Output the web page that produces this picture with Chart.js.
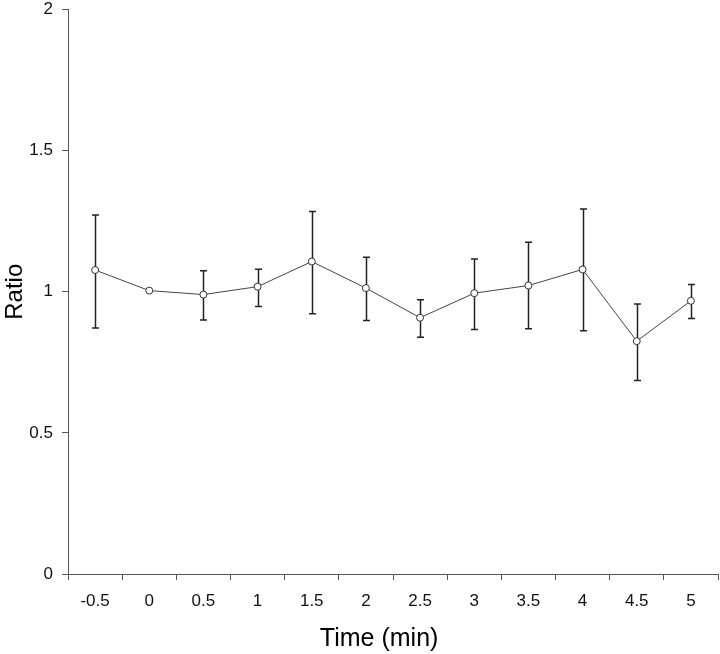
<!DOCTYPE html>
<html>
<head>
<meta charset="utf-8">
<script src="https://cdn.jsdelivr.net/npm/chart.js@4/dist/chart.umd.min.js"></script>
<style>
html,body{margin:0;padding:0;background:#fff;}
#wrap{width:720px;height:654px;position:relative;}
</style>
</head>
<body>
<div id="wrap"><canvas id="c" width="720" height="654"></canvas></div>
<script>
const timeLabels = ['-0.5','0','0.5','1','1.5','2','2.5','3','3.5','4','4.5','5'];
const ratioMean  = [1.077, 1.004, 0.990, 1.018, 1.107, 1.013, 0.908, 0.995, 1.022, 1.079, 0.825, 0.968];
const errUpper   = [1.272, 1.004, 1.074, 1.080, 1.284, 1.122, 0.972, 1.116, 1.175, 1.293, 0.957, 1.026];
const errLower   = [0.872, 1.004, 0.900, 0.948, 0.922, 0.898, 0.839, 0.866, 0.869, 0.862, 0.686, 0.905];
const yTicks     = [0, 0.5, 1, 1.5, 2];

const errorBars = {
  id: 'errorBars',
  beforeDatasetsDraw(chart) {
    const ctx = chart.ctx;
    const xs = chart.scales.x, ys = chart.scales.y;
    ctx.save();
    ctx.strokeStyle = '#222';
    ctx.lineWidth = 1.5;
    for (let i = 0; i < ratioMean.length; i++) {
      if (errUpper[i] === errLower[i]) continue;
      const x = Math.round(xs.getPixelForValue(i)) + 0.5;
      const yt = ys.getPixelForValue(errUpper[i]);
      const yb = ys.getPixelForValue(errLower[i]);
      ctx.beginPath();
      ctx.moveTo(x, yt); ctx.lineTo(x, yb);
      ctx.moveTo(x - 3.5, yt); ctx.lineTo(x + 3.5, yt);
      ctx.moveTo(x - 3.5, yb); ctx.lineTo(x + 3.5, yb);
      ctx.stroke();
    }
    ctx.restore();
  }
};

new Chart(document.getElementById('c'), {
  type: 'line',
  data: {
    labels: timeLabels,
    datasets: [{
      data: ratioMean,
      borderColor: '#444',
      borderWidth: 1,
      pointRadius: 3.5,
      pointBackgroundColor: '#fff',
      pointBorderColor: '#333',
      pointBorderWidth: 1,
      tension: 0,
      fill: false
    }]
  },
  options: {
    responsive: false,
    animation: false,
    events: [],
    layout: { padding: 0, autoPadding: false },
    plugins: { legend: { display: false }, tooltip: { enabled: false } },
    scales: {
      x: {
        type: 'category',
        offset: true,
        afterFit(scale) { scale.height = 80; scale.paddingLeft = 0; scale.paddingRight = 2; },
        grid: { offset: true, drawOnChartArea: false, drawTicks: true, tickLength: 6, tickColor: '#555' },
        border: { color: '#555', width: 1 },
        ticks: { color: '#111', font: { family: 'Liberation Sans', size: 17 }, padding: 11, maxRotation: 0, autoSkip: false },
        title: { display: true, text: 'Time (min)    ', color: '#000', font: { family: 'Liberation Sans', size: 25 }, padding: { top: 3, bottom: 0 } }
      },
      y: {
        min: 0, max: 2,
        afterBuildTicks(scale) { scale.ticks = yTicks.map(v => ({ value: v })); },
        afterFit(scale) { scale.width = 68; scale.paddingTop = 9.5; scale.paddingBottom = 0; },
        grid: { drawOnChartArea: false, drawTicks: true, tickLength: 6, tickColor: '#555' },
        border: { color: '#555', width: 1 },
        ticks: { color: '#111', font: { family: 'Liberation Sans', size: 17 }, padding: 9,
                 callback: v => String(v) },
        title: { display: true, text: 'Ratio', color: '#000', font: { family: 'Liberation Sans', size: 24 }, padding: { top: 1, bottom: 0 } }
      }
    }
  },
  plugins: [errorBars]
});
</script>
</body>
</html>
